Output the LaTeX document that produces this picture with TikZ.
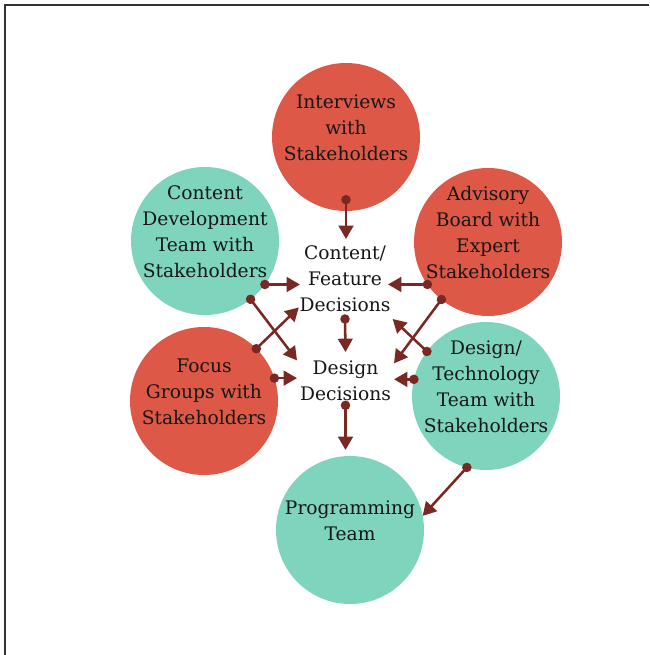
\documentclass[tikz,border=0pt]{standalone}
\usepackage{fontspec}
\setmainfont{DejaVu Serif}
\usetikzlibrary{arrows.meta}

\definecolor{ballred}{RGB}{222,88,71}
\definecolor{ballgreen}{RGB}{126,212,188}
\definecolor{arrowred}{RGB}{121,41,34}
\definecolor{inkgray}{RGB}{22,22,22}

\begin{document}
\begin{tikzpicture}
	[x=0.75pt,y=-0.75pt,
	ball/.style={circle,minimum size=111pt,inner sep=0pt,outer sep=0pt},
	redball/.style={ball,fill=ballred},
	greenball/.style={ball,fill=ballgreen},
	balltext/.style={align=center,yshift=7pt,text=inkgray,font=\fontsize{14}{19.5}\selectfont},
	decision/.style={rectangle,inner sep=0pt,outer sep=0pt,align=center,text=inkgray,font=\fontsize{14}{19.5}\selectfont},
	edge/.style={{Circle[length=7pt]}-{Triangle[length=10pt,width=11pt]},line width=1.9pt,draw=arrowred,shorten <=-3.5pt}]
	\useasboundingbox (0,0) rectangle (649,655);
	\draw[line width=1.5pt,black!80] (5,655) -- (5,5) -- (649,5);
	
	\node[redball,label={[balltext]center:{Interviews\\with\\Stakeholders}}] (intv) at (346,137) {};
	\node[greenball,label={[balltext]center:{Content\\Development\\Team with\\Stakeholders}}] (cdev) at (205,241) {};
	\node[redball,label={[balltext]center:{Advisory\\Board with\\Expert\\Stakeholders}}] (adv) at (488,242) {};
	\node[redball,label={[balltext]center:{Focus\\Groups with\\Stakeholders}}] (focus) at (204,401) {};
	\node[greenball,label={[balltext]center:{Design/\\Technology\\Team with\\Stakeholders}}] (dtech) at (486,396) {};
	\node[greenball,label={[balltext]center:{Programming\\Team}}] (prog) at (350,530) {};
	
	\node[decision,minimum width=76.5pt,minimum height=60pt] (cfd) at (345,279) {Content/\\Feature\\Decisions};
	\node[decision,minimum width=72.75pt,minimum height=43.5pt] (dd) at (345.5,381) {Design\\Decisions};
	
	\draw[edge,shorten <=-12pt] (intv.south) -- (intv.south |- cfd.north);
	\draw[edge,shorten >=-4.5pt] (cdev.-36) -- (cdev.-36 -| cfd.west);
	\draw[edge,shorten >=-6pt] (adv.215) -- (adv.215 -| cfd.east);
	\draw[edge] (cfd.south) -- (dd.north);
	\draw[edge] (cdev.-52) -- (dd.157);
	\draw[edge,shorten >=-5pt] (focus.45) -- (cfd.213);
	\draw[edge] (adv.231) -- (dd.20);
	\draw[edge] (dtech.143) -- (cfd.-40);
	\draw[edge] (focus.18) -- (focus.18 -| dd.west);
	\draw[edge] (dtech.167) -- (dtech.167 -| dd.east);
	\draw[edge,shorten <=-7pt,shorten >=4.5pt] (dd.south) -- (dd.south |- prog.north);
	\draw[edge] (dtech.255) -- (prog.11);
	
\end{tikzpicture}
\end{document}
